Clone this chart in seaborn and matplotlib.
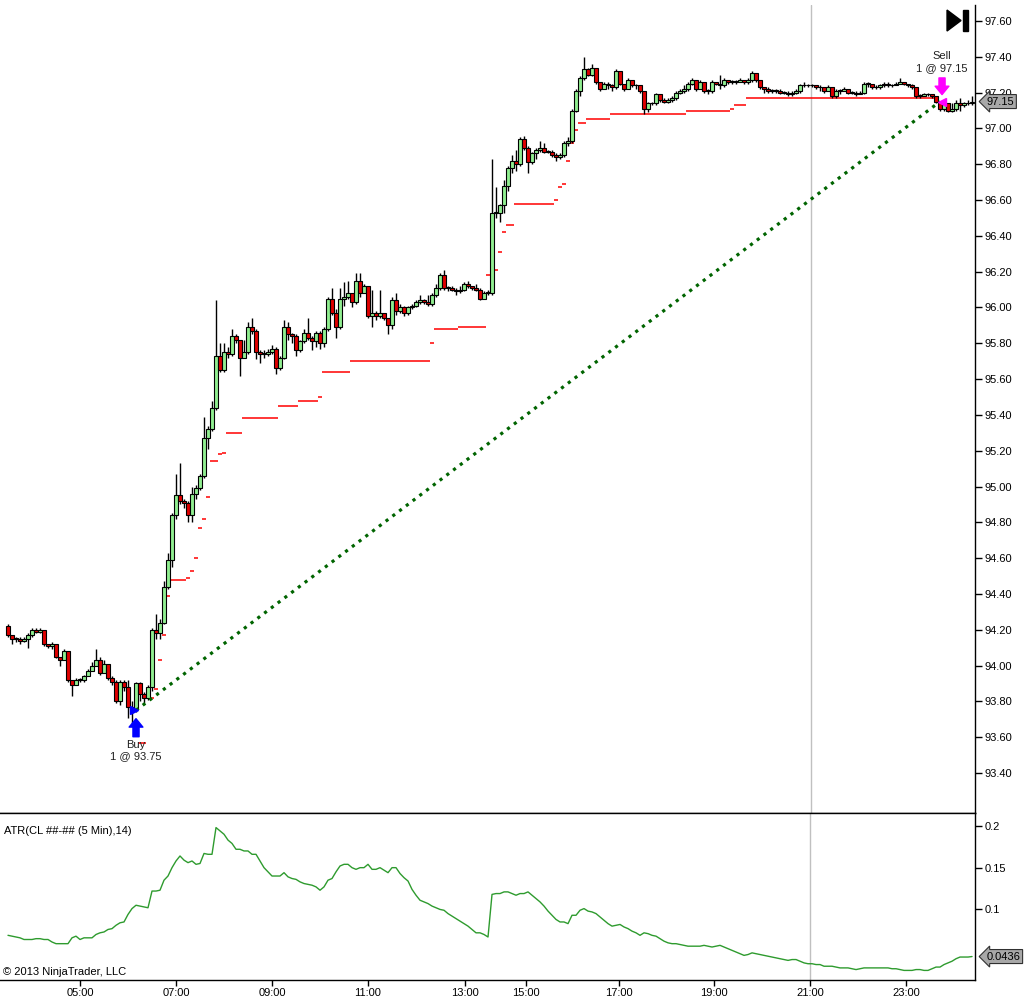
import numpy as np
import pandas as pd
import matplotlib
matplotlib.use('Agg')
import matplotlib.pyplot as plt
import matplotlib.transforms as mtrans
from matplotlib.patches import Polygon, Rectangle
from matplotlib.ticker import FuncFormatter
import seaborn as sns

# 5-minute bars, CL ##-##
first_open = 94.22
closes = [
    94.17, 94.15, 94.15, 94.14, 94.15, 94.17, 94.20, 94.19, 94.20, 94.12,
    94.11, 94.12, 94.05, 94.03, 94.08, 93.92, 93.89, 93.92, 93.92, 93.94,
    93.97, 94.00, 94.03, 93.96, 94.01, 93.93, 93.91, 93.80, 93.91, 93.88,
    93.77, 93.76, 93.90, 93.84, 93.82, 93.88, 94.20, 94.18, 94.24, 94.44,
    94.59, 94.84, 94.95, 94.92, 94.91, 94.84, 94.96, 94.99, 95.06, 95.27,
    95.32, 95.44, 95.73, 95.65, 95.75, 95.74, 95.84, 95.82, 95.72, 95.75,
    95.89, 95.87, 95.75, 95.74, 95.74, 95.75, 95.77, 95.66, 95.72, 95.89,
    95.85, 95.84, 95.76, 95.81, 95.86, 95.83, 95.81, 95.86, 95.80, 95.88,
    96.05, 95.97, 95.89, 96.05, 96.06, 96.08, 96.03, 96.15, 96.08, 96.12,
    95.95, 95.97, 95.95, 95.97, 95.94, 95.90, 96.04, 95.98, 96.00, 95.97,
    96.00, 96.01, 96.03, 96.04, 96.03, 96.02, 96.07, 96.11, 96.18, 96.11,
    96.11, 96.10, 96.09, 96.10, 96.13, 96.12, 96.11, 96.10, 96.05, 96.08,
    96.08, 96.53, 96.53, 96.57, 96.68, 96.78, 96.82, 96.80, 96.94, 96.89,
    96.81, 96.86, 96.88, 96.89, 96.87, 96.87, 96.85, 96.84, 96.85, 96.92,
    96.93, 97.10, 97.21, 97.28, 97.33, 97.30, 97.34, 97.26, 97.22, 97.25,
    97.24, 97.23, 97.32, 97.25, 97.22, 97.27, 97.24, 97.24, 97.21, 97.11,
    97.14, 97.14, 97.19, 97.16, 97.15, 97.16, 97.17, 97.20, 97.21, 97.22,
    97.25, 97.27, 97.22, 97.26, 97.21, 97.21, 97.26, 97.25, 97.24, 97.27,
    97.26, 97.26, 97.26, 97.27, 97.26, 97.27, 97.31, 97.27, 97.23, 97.22,
    97.21, 97.21, 97.21, 97.20, 97.20, 97.19, 97.20, 97.21, 97.24, 97.24,
    97.24, 97.24, 97.23, 97.23, 97.21, 97.23, 97.18, 97.21, 97.21, 97.22,
    97.20, 97.20, 97.19, 97.20, 97.25, 97.25, 97.23, 97.23, 97.24, 97.25,
    97.24, 97.24, 97.25, 97.26, 97.25, 97.24, 97.23, 97.18, 97.18, 97.19,
    97.19, 97.18, 97.15, 97.11, 97.14, 97.10, 97.11, 97.14, 97.13, 97.14,
    97.14, 97.15,
]
highs = [
    94.23, 94.17, 94.16, 94.16, 94.16, 94.18, 94.21, 94.21, 94.21, 94.20,
    94.12, 94.13, 94.12, 94.05, 94.09, 94.08, 93.92, 93.93, 93.93, 93.95,
    93.98, 94.02, 94.09, 94.05, 94.03, 94.01, 93.94, 93.92, 93.92, 93.92,
    93.92, 93.80, 93.91, 93.91, 93.85, 93.89, 94.21, 94.29, 94.26, 94.47,
    94.63, 94.85, 95.07, 95.13, 94.93, 94.92, 95.00, 95.01, 95.07, 95.39,
    95.34, 95.48, 96.04, 95.80, 95.80, 95.78, 95.88, 95.85, 95.82, 95.82,
    95.92, 95.94, 95.88, 95.76, 95.76, 95.77, 95.79, 95.78, 95.73, 95.93,
    95.92, 95.86, 95.85, 95.82, 95.88, 95.94, 95.84, 95.87, 95.87, 95.89,
    96.06, 96.11, 95.99, 96.11, 96.14, 96.15, 96.08, 96.19, 96.19, 96.13,
    96.12, 96.10, 95.98, 96.10, 95.97, 95.94, 96.06, 96.08, 96.02, 96.01,
    96.01, 96.02, 96.04, 96.07, 96.05, 96.07, 96.08, 96.13, 96.19, 96.21,
    96.12, 96.12, 96.11, 96.12, 96.14, 96.15, 96.12, 96.13, 96.11, 96.09,
    96.10, 96.83, 96.67, 96.58, 96.71, 96.79, 96.85, 96.88, 96.95, 96.96,
    96.90, 96.87, 96.89, 96.93, 96.92, 96.88, 96.88, 96.86, 96.86, 96.93,
    96.95, 97.11, 97.22, 97.29, 97.40, 97.34, 97.36, 97.34, 97.26, 97.26,
    97.26, 97.25, 97.33, 97.32, 97.25, 97.28, 97.27, 97.25, 97.24, 97.21,
    97.15, 97.15, 97.20, 97.19, 97.17, 97.17, 97.18, 97.21, 97.22, 97.24,
    97.26, 97.28, 97.27, 97.27, 97.26, 97.22, 97.27, 97.26, 97.30, 97.28,
    97.27, 97.27, 97.27, 97.28, 97.27, 97.28, 97.32, 97.31, 97.27, 97.23,
    97.23, 97.22, 97.22, 97.22, 97.21, 97.21, 97.21, 97.22, 97.25, 97.26,
    97.25, 97.25, 97.24, 97.24, 97.23, 97.24, 97.23, 97.22, 97.22, 97.23,
    97.22, 97.21, 97.21, 97.21, 97.26, 97.26, 97.25, 97.24, 97.25, 97.26,
    97.26, 97.25, 97.26, 97.28, 97.26, 97.25, 97.25, 97.23, 97.19, 97.20,
    97.20, 97.19, 97.18, 97.15, 97.15, 97.14, 97.14, 97.16, 97.17, 97.15,
    97.16, 97.18,
]
lows = [
    94.16, 94.12, 94.13, 94.12, 94.13, 94.10, 94.16, 94.18, 94.18, 94.11,
    94.10, 94.09, 94.04, 94.00, 94.03, 93.91, 93.83, 93.89, 93.91, 93.91,
    93.94, 93.97, 94.00, 93.95, 93.96, 93.92, 93.89, 93.79, 93.78, 93.86,
    93.71, 93.68, 93.74, 93.80, 93.79, 93.81, 93.86, 94.15, 94.15, 94.23,
    94.43, 94.55, 94.82, 94.90, 94.88, 94.80, 94.80, 94.93, 94.98, 95.05,
    95.21, 95.31, 95.43, 95.64, 95.64, 95.72, 95.73, 95.80, 95.62, 95.72,
    95.74, 95.85, 95.71, 95.69, 95.72, 95.73, 95.74, 95.63, 95.65, 95.71,
    95.82, 95.80, 95.73, 95.75, 95.80, 95.82, 95.76, 95.78, 95.77, 95.78,
    95.87, 95.96, 95.83, 95.88, 96.01, 96.05, 96.00, 96.02, 96.06, 96.08,
    95.94, 95.89, 95.93, 95.94, 95.93, 95.85, 95.88, 95.96, 95.97, 95.95,
    95.96, 95.99, 96.00, 96.02, 96.02, 96.01, 96.01, 96.06, 96.10, 96.10,
    96.09, 96.09, 96.07, 96.08, 96.09, 96.11, 96.10, 96.09, 96.04, 96.05,
    96.07, 96.07, 96.50, 96.48, 96.53, 96.65, 96.75, 96.76, 96.79, 96.88,
    96.75, 96.80, 96.83, 96.87, 96.86, 96.86, 96.84, 96.82, 96.83, 96.84,
    96.90, 96.92, 97.09, 97.18, 97.27, 97.29, 97.29, 97.25, 97.21, 97.22,
    97.22, 97.21, 97.22, 97.24, 97.21, 97.22, 97.23, 97.22, 97.20, 97.08,
    97.09, 97.13, 97.13, 97.15, 97.14, 97.14, 97.15, 97.16, 97.19, 97.20,
    97.21, 97.24, 97.21, 97.22, 97.20, 97.19, 97.20, 97.24, 97.22, 97.23,
    97.25, 97.25, 97.25, 97.26, 97.25, 97.25, 97.26, 97.26, 97.22, 97.20,
    97.20, 97.20, 97.20, 97.19, 97.19, 97.18, 97.18, 97.19, 97.20, 97.23,
    97.23, 97.23, 97.22, 97.21, 97.20, 97.22, 97.17, 97.17, 97.19, 97.21,
    97.19, 97.19, 97.18, 97.19, 97.19, 97.23, 97.22, 97.22, 97.22, 97.23,
    97.23, 97.23, 97.24, 97.25, 97.24, 97.23, 97.22, 97.17, 97.17, 97.18,
    97.18, 97.17, 97.14, 97.10, 97.10, 97.09, 97.09, 97.10, 97.10, 97.12,
    97.13, 97.13,
]
atr = [
    0.069, 0.068, 0.067, 0.066, 0.064, 0.064, 0.064, 0.065, 0.065, 0.064,
    0.064, 0.061, 0.059, 0.059, 0.059, 0.059, 0.066, 0.068, 0.064, 0.066,
    0.066, 0.066, 0.070, 0.072, 0.073, 0.076, 0.077, 0.081, 0.084, 0.085,
    0.094, 0.101, 0.105, 0.104, 0.103, 0.102, 0.122, 0.122, 0.123, 0.135,
    0.140, 0.150, 0.158, 0.164, 0.159, 0.156, 0.158, 0.154, 0.155, 0.167,
    0.166, 0.166, 0.198, 0.194, 0.190, 0.183, 0.179, 0.172, 0.172, 0.170,
    0.170, 0.166, 0.166, 0.158, 0.150, 0.145, 0.140, 0.140, 0.140, 0.144,
    0.139, 0.137, 0.136, 0.133, 0.131, 0.130, 0.129, 0.127, 0.123, 0.127,
    0.135, 0.137, 0.145, 0.152, 0.154, 0.154, 0.150, 0.148, 0.150, 0.150,
    0.154, 0.148, 0.148, 0.150, 0.147, 0.144, 0.150, 0.150, 0.143, 0.138,
    0.134, 0.124, 0.117, 0.111, 0.109, 0.107, 0.104, 0.102, 0.100, 0.099,
    0.095, 0.092, 0.089, 0.086, 0.083, 0.080, 0.076, 0.072, 0.072, 0.070,
    0.067, 0.118, 0.119, 0.119, 0.121, 0.121, 0.119, 0.117, 0.119, 0.119,
    0.121, 0.117, 0.113, 0.109, 0.104, 0.098, 0.093, 0.088, 0.085, 0.085,
    0.083, 0.093, 0.093, 0.099, 0.101, 0.098, 0.097, 0.095, 0.091, 0.087,
    0.083, 0.080, 0.081, 0.082, 0.079, 0.077, 0.074, 0.072, 0.069, 0.072,
    0.071, 0.069, 0.068, 0.065, 0.062, 0.060, 0.059, 0.059, 0.058, 0.057,
    0.056, 0.056, 0.056, 0.056, 0.057, 0.056, 0.055, 0.056, 0.057, 0.055,
    0.053, 0.051, 0.049, 0.047, 0.045, 0.046, 0.048, 0.047, 0.046, 0.045,
    0.044, 0.043, 0.042, 0.041, 0.040, 0.039, 0.040, 0.040, 0.038, 0.036,
    0.035, 0.035, 0.034, 0.034, 0.032, 0.032, 0.032, 0.031, 0.030, 0.030,
    0.030, 0.029, 0.028, 0.029, 0.030, 0.030, 0.030, 0.030, 0.030, 0.030,
    0.030, 0.029, 0.029, 0.028, 0.027, 0.027, 0.027, 0.028, 0.028, 0.027,
    0.027, 0.029, 0.031, 0.031, 0.034, 0.036, 0.038, 0.041, 0.043, 0.043,
    0.043, 0.0436,
]

# trailing stop: level and how many bars it stays there, starting at bar 33
stop_start = 33
stop_levels = [93.57, 93.82, 93.87, 94.03, 94.17, 94.39, 94.48, 94.49, 94.53, 94.60,
               94.77, 94.82, 94.94, 95.14, 95.18, 95.19, 95.30, 95.38, 95.45, 95.48,
               95.50, 95.64, 95.70, 95.80, 95.88, 95.89, 96.18, 96.21, 96.31, 96.42,
               96.46, 96.58, 96.60, 96.67, 96.69, 96.82, 96.92, 96.99, 97.03, 97.05,
               97.08, 97.10, 97.11, 97.13, 97.17]
stop_counts = [2, 2, 1, 1, 1, 1, 4, 1, 1, 1,
               1, 1, 1, 2, 1, 1, 4, 9, 5, 5,
               1, 7, 20, 1, 6, 7, 2, 1, 1, 1,
               2, 10, 1, 1, 1, 1, 1, 1, 2, 6,
               19, 11, 1, 3, 47]

buy_bar, buy_price = 32, 93.75
sell_bar, sell_price = 233, 97.15

time_labels = ['05:00', '07:00', '09:00', '11:00', '13:00', '15:00', '17:00', '19:00', '21:00', '23:00']
time_ticks = [18, 42, 66, 90, 114.25, 129.5, 152.75, 176.5, 200.5, 224.5]
session_break = 200.75
price_ticks = [93.40, 93.60, 93.80, 94.00, 94.20, 94.40, 94.60, 94.80, 95.00, 95.20, 95.40,
               95.60, 95.80, 96.00, 96.20, 96.40, 96.60, 96.80, 97.00, 97.20, 97.40, 97.60]
atr_ticks = [0.1, 0.15, 0.2]

sns.set_theme(style='white')
plt.rcParams['font.family'] = ['Liberation Sans', 'DejaVu Sans']
plt.rcParams['axes.edgecolor'] = 'black'
plt.rcParams['axes.linewidth'] = 1.0

n = len(closes)
df = pd.DataFrame({
    'bar': np.arange(n),
    'open': np.r_[first_open, closes[:-1]],
    'high': highs, 'low': lows, 'close': closes, 'atr': atr,
})
up = df['close'] >= df['open']

fig = plt.figure(figsize=(10.27, 10.07), dpi=100)
ax1 = fig.add_axes([0.0, 0.1927, 0.9494, 0.8023])
ax2 = fig.add_axes([0.0, 0.0268, 0.9494, 0.1659], sharex=ax1)

# ---- price panel ----
ax1.vlines(df['bar'], df['low'], df['high'], color='black', lw=1, zorder=2)
body = (df['close'] - df['open']).abs().clip(lower=0.004)
ax1.bar(df['bar'], body, bottom=np.minimum(df['open'], df['close']), width=0.8,
        color=np.where(up, '#90EE90', '#E00000'), edgecolor='black', linewidth=0.8, zorder=3)

# one red segment per stop level, spanning the bars it held for
run_start = stop_start + np.r_[0, np.cumsum(stop_counts)[:-1]]
run_end = run_start + np.array(stop_counts)
ax1.hlines(stop_levels, run_start - 0.5, run_end - 0.5, color='#FF0000', lw=1.1, zorder=1.5)

ax1.plot([buy_bar, sell_bar], [buy_price, sell_price], color='#006400', ls=':', lw=2.3, zorder=4)

# entry / exit marks
ax1.plot(buy_bar - 0.6, buy_price, marker='>', color='#0000FF', ms=6, zorder=5)
ax1.plot(sell_bar + 0.5, sell_price - 0.005, marker='<', color='#FF00FF', ms=6, zorder=5)
arrow = 'simple,head_length=0.55,head_width=0.9,tail_width=0.4'
ax1.annotate('', xy=(buy_bar, buy_price), xytext=(0, -19), textcoords='offset points',
             arrowprops=dict(arrowstyle=arrow, color='#0000FF', shrinkA=0, shrinkB=6,
                             mutation_scale=11), zorder=5)
ax1.annotate('', xy=(sell_bar + 0.5, sell_price), xytext=(0, 17), textcoords='offset points',
             arrowprops=dict(arrowstyle=arrow, color='#FF00FF', shrinkA=0, shrinkB=5,
                             mutation_scale=11), zorder=5)
ax1.annotate('Buy', xy=(buy_bar, buy_price), xytext=(0, -25), textcoords='offset points',
             ha='center', va='center', fontsize=8, color='#202020')
ax1.annotate(f'1 @ {buy_price:.2f}', xy=(buy_bar, buy_price), xytext=(0, -33),
             textcoords='offset points', ha='center', va='center', fontsize=8, color='#202020')
ax1.annotate('Sell', xy=(sell_bar + 0.5, sell_price), xytext=(0, 33), textcoords='offset points',
             ha='center', va='center', fontsize=8, color='#202020')
ax1.annotate(f'1 @ {sell_price:.2f}', xy=(sell_bar + 0.5, sell_price), xytext=(0, 24),
             textcoords='offset points', ha='center', va='center', fontsize=8, color='#202020')

ax1.axvline(session_break, color='#C0C0C0', lw=1, zorder=0)

ax1.set_ylim(93.177, 97.689)
ax1.set_xlim(-2, 241.75)
ax1.yaxis.tick_right()
ax1.set_yticks(price_ticks)
ax1.yaxis.set_major_formatter(FuncFormatter(lambda v, p: f'{v:.2f}'))
ax1.tick_params(axis='y', direction='out', length=5, width=1, labelsize=8, pad=2,
                right=True, colors='black')
ax1.tick_params(axis='x', bottom=False, labelbottom=False)
for s in ['left', 'top']:
    ax1.spines[s].set_visible(False)
ax1.set_xlabel('')
ax1.set_ylabel('')

tr1 = mtrans.blended_transform_factory(ax1.transAxes, ax1.transData)
ax1.text(1.012, closes[-1], f'{closes[-1]:.2f}', transform=tr1, ha='left', va='center',
         fontsize=8, color='black', zorder=10, clip_on=False,
         bbox=dict(boxstyle='larrow,pad=0.18', fc='#A8A8A8', ec='#303030', lw=0.8))

# skip-to-end icon, top right
ax1.add_patch(Polygon([(947 / 975, 803 / 808), (947 / 975, 782 / 808), (961 / 975, 792.5 / 808)],
                      closed=True, transform=ax1.transAxes, color='black', clip_on=False))
ax1.add_patch(Rectangle((963 / 975, 782 / 808), 5 / 975, 21 / 808,
                        transform=ax1.transAxes, color='black', clip_on=False))

# ---- ATR panel ----
sns.lineplot(data=df, x='bar', y='atr', ax=ax2, color='#2E9B2E', lw=1)
ax2.axvline(session_break - 0.25, color='#C0C0C0', lw=1, zorder=0)
ax2.set_ylim(0.0155, 0.2155)
ax2.yaxis.tick_right()
ax2.set_yticks(atr_ticks)
ax2.yaxis.set_major_formatter(FuncFormatter(lambda v, p: f'{v:g}'))
ax2.tick_params(axis='y', direction='out', length=5, width=1, labelsize=8, pad=2,
                right=True, colors='black')
ax2.set_xticks(time_ticks)
ax2.set_xticklabels(time_labels)
ax2.tick_params(axis='x', direction='out', length=4, width=1, labelsize=8, pad=2,
                bottom=True, colors='black')
ax2.spines['left'].set_visible(False)
ax2.set_xlabel('')
ax2.set_ylabel('')

tr2 = mtrans.blended_transform_factory(ax2.transAxes, ax2.transData)
ax2.text(1.012, atr[-1], f'{atr[-1]:.4f}', transform=tr2, ha='left', va='center',
         fontsize=8, color='black', zorder=10, clip_on=False,
         bbox=dict(boxstyle='larrow,pad=0.18', fc='#A8A8A8', ec='#303030', lw=0.8))
ax2.text(0.004, 0.89, 'ATR(CL ##-## (5 Min),14)', transform=ax2.transAxes,
         ha='left', va='center', fontsize=8, color='black')
ax2.text(0.003, 0.045, '\u00a9 2013 NinjaTrader, LLC', transform=ax2.transAxes,
         ha='left', va='center', fontsize=8, color='black')

fig.savefig('out.png', dpi=100)
